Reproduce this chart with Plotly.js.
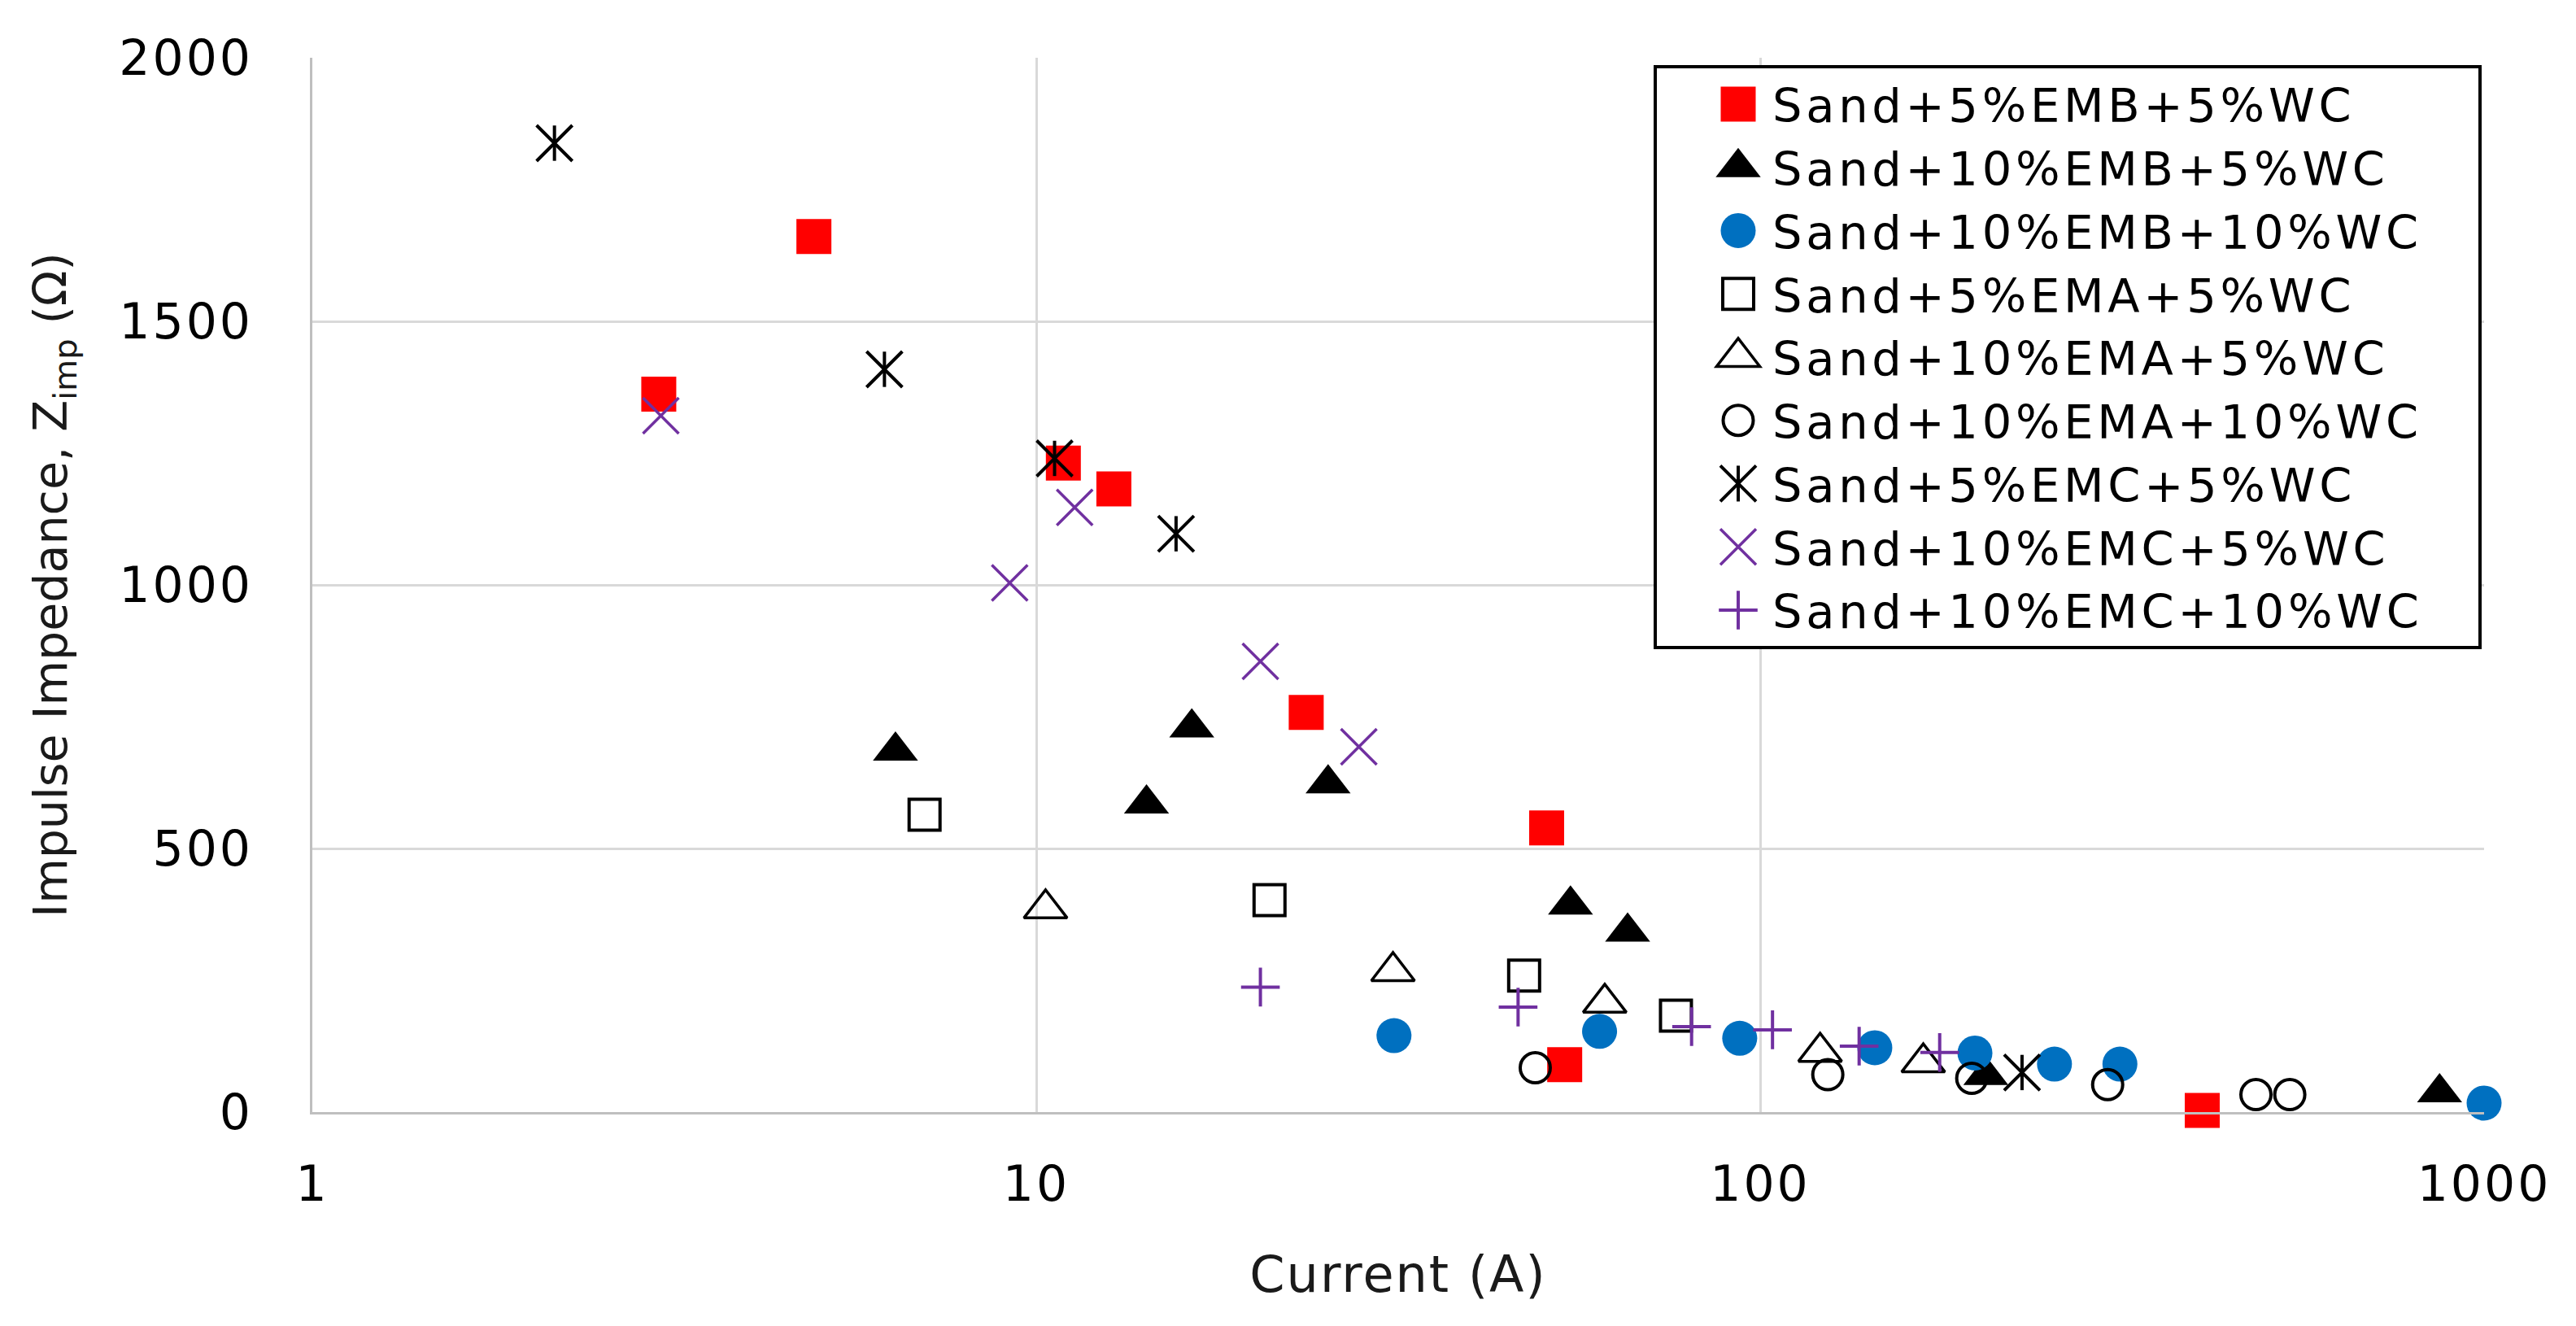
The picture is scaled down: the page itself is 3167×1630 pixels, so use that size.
<!DOCTYPE html>
<html>
<head>
<meta charset="utf-8">
<script src="https://cdn.plot.ly/plotly-3.0.1.min.js"></script>
<style>
  html, body { margin: 0; padding: 0; background: #ffffff; }
  #chart { width: 3167px; height: 1630px; }
  text.legendtext { letter-spacing: 4.7px; }
  g.ytick text, g.xtick text { letter-spacing: 3px; }
  text.xtitle { letter-spacing: 2px; }
</style>
</head>
<body>
<div id="chart"></div>
<script>
// ---- data ----
const seriesNames = [
  "Sand+5%EMB+5%WC",
  "Sand+10%EMB+5%WC",
  "Sand+10%EMB+10%WC",
  "Sand+5%EMA+5%WC",
  "Sand+10%EMA+5%WC",
  "Sand+10%EMA+10%WC",
  "Sand+5%EMC+5%WC",
  "Sand+10%EMC+5%WC",
  "Sand+10%EMC+10%WC"
];

const emb5wc5_x  = [3.01, 4.93, 10.9, 12.8, 23.6, 50.7, 53.7, 408];
const emb5wc5_y  = [1362, 1661, 1231, 1182, 758, 539, 90, 3];

const emb10wc5_x = [6.39, 14.2, 16.4, 25.3, 54.7, 65.6, 205, 868];
const emb10wc5_y = [685, 585, 729, 623, 393, 342, 70, 37];

const emb10wc10_x = [31.2, 60.0, 93.7, 144, 198, 255, 314, 1000];
const emb10wc10_y = [145, 153, 140, 122, 112, 91, 91, 17];

const ema5wc5_x  = [7.01, 21.0, 47.2, 76.5];
const ema5wc5_y  = [564, 402, 259, 183];

const ema10wc5_x = [10.3, 31.1, 61.0, 121, 168];
const ema10wc5_y = [386, 267, 207, 114, 94];

const ema10wc10_x = [48.9, 124, 196, 302, 484, 539];
const ema10wc10_y = [84, 71, 64, 52, 33, 33];

const emc5wc5_x  = [2.16, 6.17, 10.6, 15.6, 230];
const emc5wc5_y  = [1838, 1409, 1240, 1097, 75];

const emc10wc5_x = [3.03, 9.19, 11.3, 20.4, 27.9];
const emc10wc5_y = [1321, 1004, 1147, 855, 693];

const emc10wc10_x = [20.4, 46.3, 80.4, 104, 137, 177];
const emc10wc10_y = [237, 199, 162, 156, 125, 113];

const xTickVals = [1, 10, 100, 1000];
const xTickText = ["1", "10", "100", "1000"];

// ---- styles ----
const RED = "#FF0000", BLUE = "#0070C0", PURPLE = "#7030A0", BLACK = "#000000";
const FONT = "DejaVu Sans";

function sc(name, x, y, symbol, size, color, lw, extra) {
  return Object.assign({
    type: "scatter", mode: "markers", name: name, x: x, y: y,
    cliponaxis: false, hoverinfo: "skip",
    marker: { symbol: symbol, size: size, color: color, line: { width: lw, color: color } }
  }, extra || {});
}

const traces = [
  sc(seriesNames[0], emb5wc5_x, emb5wc5_y, "square", 43, RED, 0),
  sc(seriesNames[1], emb10wc5_x, emb10wc5_y, "triangle-up", 48, BLACK, 0),
  sc(seriesNames[2], emb10wc10_x, emb10wc10_y, "circle", 43, BLUE, 0),
  sc(seriesNames[3], ema5wc5_x, ema5wc5_y, "square-open", 38, BLACK, 4),
  sc(seriesNames[4], ema10wc5_x, ema10wc5_y, "triangle-up-open", 46, BLACK, 3.5),
  sc(seriesNames[5], ema10wc10_x, ema10wc10_y, "circle-open", 37, BLACK, 4),
  sc(seriesNames[6], emc5wc5_x, emc5wc5_y, "x-thin-open", 44, BLACK, 4),
  sc(seriesNames[6], emc5wc5_x, emc5wc5_y, "line-ns-open", 31, BLACK, 4, { showlegend: false }),
  sc(seriesNames[7], emc10wc5_x, emc10wc5_y, "x-thin-open", 44, PURPLE, 3.5),
  sc(seriesNames[8], emc10wc10_x, emc10wc10_y, "cross-thin-open", 34, PURPLE, 4)
];

const layout = {
  width: 3167, height: 1630,
  paper_bgcolor: "#ffffff", plot_bgcolor: "#ffffff",
  margin: { l: 384, r: 113, t: 71, b: 263 },
  font: { family: FONT, size: 60, color: "#000000" },
  showlegend: true,
  xaxis: {
    type: "log", range: [0, 3],
    tickvals: xTickVals, ticktext: xTickText,
    ticks: "", ticklabelstandoff: 34,
    tickfont: { family: FONT, size: 60, color: "#000000" },
    showgrid: true, gridcolor: "#D9D9D9", gridwidth: 3,
    showline: true, linecolor: "#BFBFBF", linewidth: 3,
    zeroline: false, automargin: false,
    title: { text: "Current (A)", font: { family: FONT, size: 62, color: "#1a1a1a" }, standoff: 56 }
  },
  yaxis: {
    range: [0, 2000], tick0: 0, dtick: 500,
    ticks: "", ticklabelstandoff: 58,
    tickfont: { family: FONT, size: 60, color: "#000000" },
    showgrid: true, gridcolor: "#D9D9D9", gridwidth: 3,
    showline: true, linecolor: "#BFBFBF", linewidth: 3,
    zeroline: false, automargin: false,
    title: { text: "Impulse Impedance, Z<sub>imp</sub> (Ω)", font: { family: FONT, size: 57, color: "#1a1a1a" }, standoff: 46 }
  },
  legend: {
    x: 0.6176, y: 0.9930, xanchor: "left", yanchor: "top",
    bgcolor: "#ffffff", bordercolor: "#000000", borderwidth: 4,
    font: { family: FONT, size: 57.5, color: "#000000" },
    itemwidth: 74, indentation: 58,
    traceorder: "normal", tracegroupgap: 0,
    itemclick: false, itemdoubleclick: false
  }
};

const LEGEND_BOX_WIDTH = 1018;

const gd = document.getElementById("chart");
Plotly.newPlot(gd, traces, layout, { displayModeBar: false, staticPlot: true }).then(function () {
  // enlarge legend symbols to the size of the plotted markers
  const legendTraces = traces.filter(t => t.showlegend !== false);
  const groups = gd.querySelectorAll(".legend .traces");
  groups.forEach(function (g, i) {
    const tr = legendTraces[i];
    if (!tr) return;
    const s = tr.marker.size / 16;
    g.querySelectorAll(".legendpoints path.scatterpts").forEach(function (p) {
      const base = p.getAttribute("transform") || "";
      p.setAttribute("transform", base + " scale(" + s + ")");
      p.style.vectorEffect = "non-scaling-stroke";
      if (i === 6) {
        const v = p.cloneNode(true);
        v.setAttribute("d", "M0,8V-8");
        p.parentNode.appendChild(v);
      }
    });
  });
  // widen the legend frame like the reference
  const bg = gd.querySelector(".legend rect.bg");
  if (bg) bg.setAttribute("width", LEGEND_BOX_WIDTH - 4);
  const sb = gd.querySelector(".legend .scrollbox");
  if (sb) sb.removeAttribute("clip-path");
});
</script>
</body>
</html>
